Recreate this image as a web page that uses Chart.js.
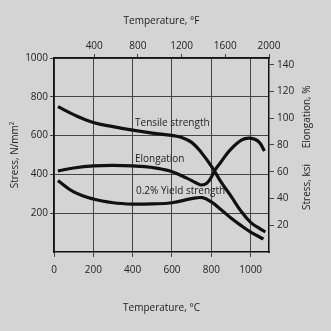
<!DOCTYPE html>
<html>
<head>
<meta charset="utf-8">
<script src="https://cdn.jsdelivr.net/npm/chart.js@4.4.0/dist/chart.umd.min.js"></script>
<style>
  html, body { margin: 0; padding: 0; background: #d4d4d4; }
  #wrap { width: 331px; height: 331px; }
</style>
</head>
<body>
<div id="wrap"><canvas id="chart" width="331" height="331"></canvas></div>
<script>
// temperature in °C, stress in N/mm², elongation in %
const tempTensile = [20, 100, 200, 300, 400, 500, 600, 650, 700, 750, 800, 850, 900, 950, 1000, 1050, 1075];
const tensile = [749, 708, 668, 646, 628, 613, 601, 590, 565, 512, 443, 360, 288, 212, 153, 118, 104];

const tempYield = [20, 100, 200, 300, 400, 500, 600, 700, 755, 800, 850, 900, 950, 1000, 1065];
const yieldStrength = [368, 310, 273, 254, 247, 248, 254, 275, 280, 258, 218, 175, 137, 103, 67];

const tempElong = [20, 100, 200, 300, 400, 500, 590, 675, 726, 751, 777, 800, 819, 850, 896, 955, 997, 1040, 1070];
const elongation = [60.6, 62.8, 64.4, 64.8, 64.4, 63.2, 60.5, 55.2, 51.4, 50.1, 51.4, 56, 61.4, 67.5, 76.3, 83.8, 85.1, 82.6, 75.5];

const celsiusTicks = [0, 200, 400, 600, 800, 1000];
const fahrenheitTicks = [400, 800, 1200, 1600, 2000];
const stressTicks = [200, 400, 600, 800, 1000];
const ksiTicks = [20, 40, 60, 80, 100, 120, 140];

const FONT = 'Open Sans';
const INK = '#222';

// where the curve names sit, in data units (°C, N/mm²)
const curveLabels = [
  { text: 'Tensile strength', t: 412, s: 665 },
  { text: 'Elongation', t: 412, s: 479 },
  { text: '0.2% Yield strength', t: 417, s: 314 }
];

function pts(xs, ys) {
  return xs.map((x, i) => ({ x: x, y: ys[i] }));
}

function fixTicks(list) {
  return (scale) => { scale.ticks = list.map(v => ({ value: v })); };
}

const extraText = {
  id: 'extraText',
  afterDraw(chart) {
    const { ctx, scales } = chart;
    ctx.save();
    ctx.fillStyle = INK;
    ctx.font = '10px "' + FONT + '"';
    ctx.textBaseline = 'middle';
    curveLabels.forEach(l => {
      ctx.fillText(l.text, scales.x.getPixelForValue(l.t), scales.y.getPixelForValue(l.s));
    });
    // right side carries two titles: elongation (%) and stress (ksi)
    const x = scales.y2.right - 24;
    [['Elongation, %', 101], ['Stress, ksi', 48.6]].forEach(([text, v]) => {
      ctx.save();
      ctx.translate(x, scales.y2.getPixelForValue(v));
      ctx.rotate(-Math.PI / 2);
      ctx.textAlign = 'center';
      ctx.fillText(text, 0, 0);
      ctx.restore();
    });
    ctx.restore();
  }
};

const lineStyle = {
  borderColor: '#111',
  borderWidth: 3.2,
  pointRadius: 0,
  fill: false,
  tension: 0.4
};

const tickFont = { family: FONT, size: 10 };
const plain = (v) => String(v);

new Chart(document.getElementById('chart'), {
  type: 'line',
  data: {
    datasets: [
      Object.assign({ label: 'Tensile strength', data: pts(tempTensile, tensile), yAxisID: 'y' }, lineStyle),
      Object.assign({ label: '0.2% Yield strength', data: pts(tempYield, yieldStrength), yAxisID: 'y' }, lineStyle),
      Object.assign({ label: 'Elongation', data: pts(tempElong, elongation), yAxisID: 'y2' }, lineStyle)
    ]
  },
  options: {
    responsive: false,
    animation: false,
    devicePixelRatio: 1,
    layout: { padding: 0 },
    plugins: { legend: { display: false }, tooltip: { enabled: false } },
    scales: {
      x: {
        type: 'linear', position: 'bottom', min: 0, max: 1093.3,
        afterBuildTicks: fixTicks(celsiusTicks),
        afterFit: (s) => { s.height = 79; },
        grid: { color: '#444', lineWidth: 1, tickLength: 5 },
        border: { color: '#111', width: 1.5 },
        ticks: { font: tickFont, color: INK, padding: 7, maxRotation: 0, callback: plain },
        title: { display: true, text: 'Temperature, °C', font: tickFont, color: INK, padding: { top: 0, bottom: 17 } }
      },
      xF: {
        type: 'linear', position: 'top', min: 32, max: 2000,
        afterBuildTicks: fixTicks(fahrenheitTicks),
        afterFit: (s) => { s.height = 58; },
        grid: { drawOnChartArea: false, color: '#444', tickLength: 4 },
        border: { color: '#111', width: 1.5 },
        ticks: { font: tickFont, color: INK, padding: 2, maxRotation: 0, callback: plain },
        title: { display: true, text: 'Temperature, °F', font: tickFont, color: INK, padding: { top: 15, bottom: 0 } }
      },
      y: {
        position: 'left', min: 0, max: 1000,
        afterBuildTicks: fixTicks(stressTicks),
        afterFit: (s) => { s.width = 54; },
        grid: { color: '#444', lineWidth: 1, tickLength: 4 },
        border: { color: '#111', width: 1.5 },
        ticks: { font: tickFont, color: INK, padding: 2, callback: plain },
        title: { display: true, text: 'Stress, N/mm²', font: tickFont, color: INK, padding: { top: 9, bottom: 0 } }
      },
      y2: {
        position: 'right', min: 0, max: 145.04,
        afterBuildTicks: fixTicks(ksiTicks),
        afterFit: (s) => { s.width = 62; },
        grid: { drawOnChartArea: false, color: '#444', tickLength: 5 },
        border: { color: '#111', width: 1.5 },
        ticks: { font: tickFont, color: INK, padding: 3, callback: plain }
      }
    }
  },
  plugins: [extraText]
});
</script>
</body>
</html>
